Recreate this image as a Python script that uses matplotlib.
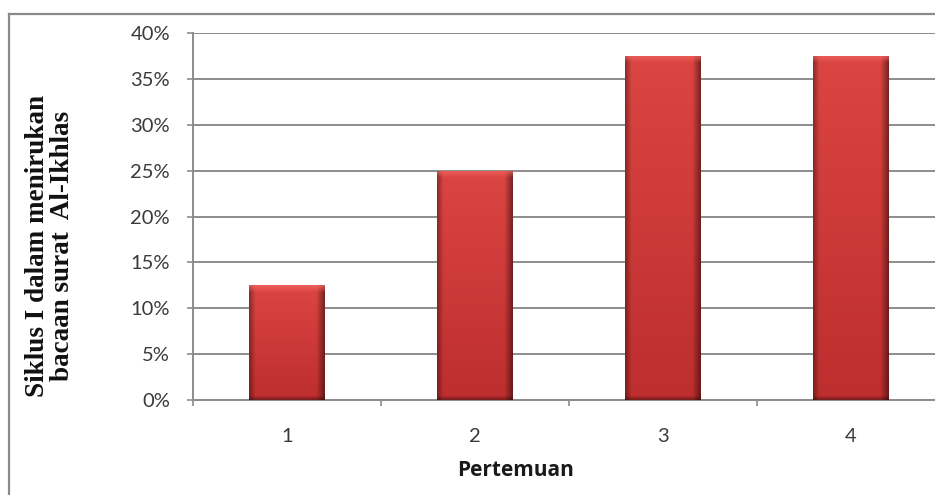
import numpy as np
import matplotlib
matplotlib.use("Agg")
import matplotlib.pyplot as plt
from matplotlib.lines import Line2D
from matplotlib.ticker import FixedLocator, PercentFormatter

# Data
meetings = ["1", "2", "3", "4"]
percentages = [12.5, 25.0, 37.5, 37.5]
y_ticks = [0, 5, 10, 15, 20, 25, 30, 35, 40]
x_label = "Pertemuan"
y_label = "Siklus I dalam menirukan\nbacaan surat  Al-Ikhlas"

W, H = 935, 495
DPI = 100
fig = plt.figure(figsize=(W / DPI, H / DPI), dpi=DPI)
fig.patch.set_facecolor("white")

# Plot area (runs past the right edge of the canvas)
ax = fig.add_axes([193 / W, 95 / H, 752 / W, 367 / H])
ax.set_facecolor("white")
x = np.arange(1, len(meetings) + 1)
ax.set_xlim(0.5, len(meetings) + 0.5)
ax.set_ylim(0, 40)

grid_col = "#8c8c8c"
ax.yaxis.set_major_locator(FixedLocator(y_ticks))
ax.yaxis.set_major_formatter(PercentFormatter(decimals=0))
ax.grid(axis="y", color=grid_col, linewidth=1.4, zorder=0)
ax.set_axisbelow(True)

for s in ["top", "right"]:
    ax.spines[s].set_visible(False)
for s in ["left", "bottom"]:
    ax.spines[s].set_color(grid_col)
    ax.spines[s].set_linewidth(1.4)

tick_family = ["Lato", "DejaVu Sans"]
tick_col = "#3a3a3a"
ax.set_xticks(x)
ax.set_xticklabels(meetings, family=tick_family, size=14.5, color=tick_col)
ax.set_xticks(np.arange(0.5, len(meetings) + 1, 1.0), minor=True)
ax.tick_params(axis="x", which="major", length=0, pad=20)
ax.tick_params(axis="x", which="minor", length=4, width=1.2, color=grid_col, direction="out")
ax.tick_params(axis="y", which="major", length=4.5, width=1.2, color=grid_col, pad=12)
for lab in ax.get_yticklabels():
    lab.set_fontfamily(tick_family)
    lab.set_fontsize(14.5)
    lab.set_color(tick_col)

bars = ax.bar(x, percentages, width=0.4, color="#d03c38", edgecolor="none", zorder=2)


def bar_shading(nx, ny):
    """RGB image for a bevelled red bar: lighter top rim, darker edges and base."""
    top = np.array([0.86, 0.27, 0.26])
    bottom = np.array([0.74, 0.18, 0.18])
    t = np.linspace(0, 1, ny)[:, None, None]
    img = top * (1 - t) + bottom * t
    img = np.repeat(img, nx, axis=1)
    xs = np.arange(nx)
    # horizontal bevel: dark at both sides, strongest on the right
    left = np.clip(1 - xs / 6.0, 0, 1)
    right = np.clip(1 - (nx - 1 - xs) / 8.0, 0, 1)
    shade = 1 - 0.35 * left - 0.45 * right
    img = img * shade[None, :, None]
    # top rim highlight
    ys = np.arange(ny)
    rim = np.clip(1 - ys / 7.0, 0, 1)
    img = img + (np.array([0.96, 0.42, 0.40]) - img) * (0.7 * rim)[:, None, None]
    # dark seam at the base
    base = np.clip(1 - (ny - 1 - ys) / 4.0, 0, 1)
    img = img * (1 - 0.35 * base)[:, None, None]
    return np.clip(img, 0, 1)


fig.canvas.draw()
for b in bars:
    x0, y0, w, h = b.get_x(), b.get_y(), b.get_width(), b.get_height()
    p0 = ax.transData.transform((x0, y0))
    p1 = ax.transData.transform((x0 + w, y0 + h))
    nx = max(int(round(p1[0] - p0[0])), 2)
    ny = max(int(round(p1[1] - p0[1])), 2)
    im = ax.imshow(bar_shading(nx, ny), extent=(x0, x0 + w, y0, y0 + h),
                   aspect="auto", origin="upper", zorder=3, interpolation="bilinear")
    im.set_clip_path(b)
ax.set_xlim(0.5, len(meetings) + 0.5)
ax.set_ylim(0, 40)

# Chart-area border (top and left edges)
frame_col = "#8a8a8a"
fig.add_artist(Line2D([9 / W, 9 / W], [0, 1 - 14 / H], transform=fig.transFigure,
                      color=frame_col, linewidth=1.6))
fig.add_artist(Line2D([9 / W, 1.0], [1 - 14 / H, 1 - 14 / H], transform=fig.transFigure,
                      color=frame_col, linewidth=1.6))

fig.text(516 / W, 1 - 471 / H, x_label, ha="center", va="center",
         fontsize=15, fontweight="bold", family=["Open Sans", "DejaVu Sans"], color="#1a1a1a")
fig.text(50 / W, 1 - 246 / H, y_label, ha="center", va="center", rotation=90,
         multialignment="center", fontsize=19.5, fontweight="bold",
         family=["Liberation Serif", "DejaVu Serif"], color="#111111", linespacing=1.05)

fig.savefig("out.png", dpi=DPI, facecolor="white")
